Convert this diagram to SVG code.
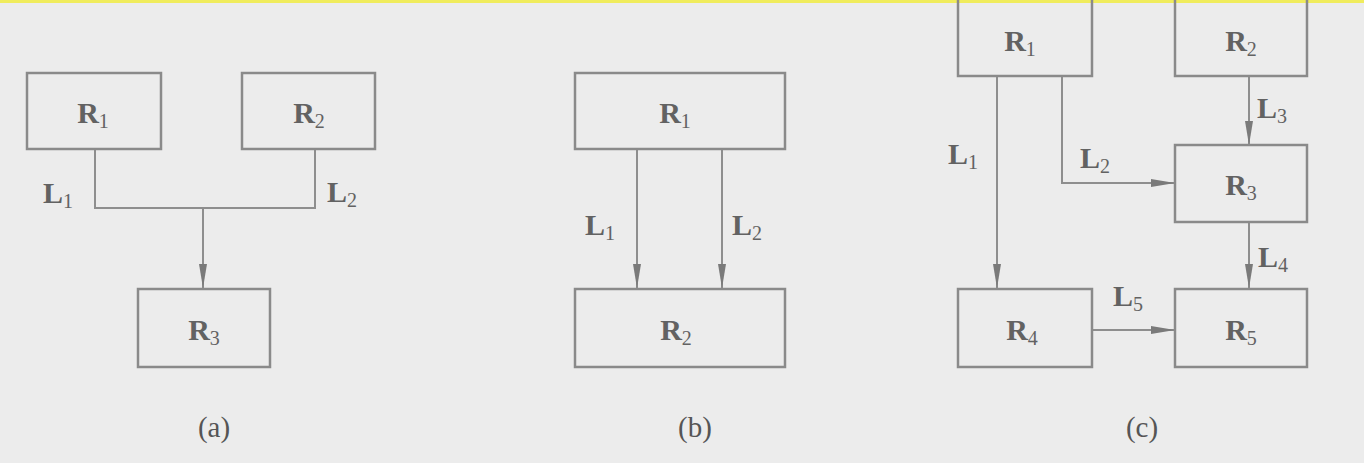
<svg xmlns="http://www.w3.org/2000/svg" width="1364" height="463" viewBox="0 0 1364 463">
<style>
.box{fill:none;stroke:#8a8a8a;stroke-width:2.5}
.ln{fill:none;stroke:#8e8e8e;stroke-width:2}
.t{font-family:"Liberation Serif","Times New Roman",serif;font-size:30px;font-weight:bold;fill:#626262}
.s{font-size:20px;font-weight:normal}
.cap{font-family:"Liberation Serif","Times New Roman",serif;font-size:29px;fill:#555}
</style>
<defs>
<marker id="ah" viewBox="0 0 24 10" refX="24" refY="5" markerWidth="24" markerHeight="10" markerUnits="userSpaceOnUse" orient="auto">
<path d="M0,1 L24,5 L0,9 Z" fill="#7a7a7a"/>
</marker>
</defs>
<rect x="0" y="0" width="1364" height="463" fill="#ececec"/>
<rect x="0" y="0" width="1364" height="3" fill="#f0ec5c"/>

<g id="connectors">
<path class="ln" d="M95,150 V208 H315 V150"/>
<path class="ln" d="M203,208 V288" marker-end="url(#ah)"/>
<path class="ln" d="M637,150 V288" marker-end="url(#ah)"/>
<path class="ln" d="M722,150 V288" marker-end="url(#ah)"/>
<path class="ln" d="M997,76 V288" marker-end="url(#ah)"/>
<path class="ln" d="M1062,76 V183 H1175" marker-end="url(#ah)"/>
<path class="ln" d="M1249,76 V145" marker-end="url(#ah)"/>
<path class="ln" d="M1249,222 V288" marker-end="url(#ah)"/>
<path class="ln" d="M1092,330 H1175" marker-end="url(#ah)"/>
<text class="t" x="43" y="203">L<tspan class="s" dy="5">1</tspan></text>
<text class="t" x="327" y="202">L<tspan class="s" dy="5">2</tspan></text>
<text class="t" x="585" y="235">L<tspan class="s" dy="5">1</tspan></text>
<text class="t" x="732" y="235">L<tspan class="s" dy="5">2</tspan></text>
<text class="t" x="948" y="164">L<tspan class="s" dy="5">1</tspan></text>
<text class="t" x="1080" y="168">L<tspan class="s" dy="5">2</tspan></text>
<text class="t" x="1257" y="118">L<tspan class="s" dy="5">3</tspan></text>
<text class="t" x="1258" y="267">L<tspan class="s" dy="5">4</tspan></text>
<text class="t" x="1113" y="306">L<tspan class="s" dy="5">5</tspan></text>
</g>

<g id="a-R1"><rect class="box" x="27" y="73" width="134" height="76"/><text class="t" x="93" y="123" text-anchor="middle">R<tspan class="s" dy="5">1</tspan></text></g>
<g id="a-R2"><rect class="box" x="242" y="73" width="133" height="76"/><text class="t" x="309" y="123" text-anchor="middle">R<tspan class="s" dy="5">2</tspan></text></g>
<g id="a-R3"><rect class="box" x="138" y="289" width="132" height="78"/><text class="t" x="204" y="340" text-anchor="middle">R<tspan class="s" dy="5">3</tspan></text></g>
<text class="cap" x="214" y="437" text-anchor="middle">(a)</text>

<g id="b-R1"><rect class="box" x="575" y="73" width="210" height="76"/><text class="t" x="675" y="123" text-anchor="middle">R<tspan class="s" dy="5">1</tspan></text></g>
<g id="b-R2"><rect class="box" x="575" y="289" width="210" height="78"/><text class="t" x="676" y="340" text-anchor="middle">R<tspan class="s" dy="5">2</tspan></text></g>
<text class="cap" x="695" y="437" text-anchor="middle">(b)</text>

<g id="c-R1"><rect class="box" x="958" y="-5" width="134" height="81"/><text class="t" x="1020" y="51" text-anchor="middle">R<tspan class="s" dy="5">1</tspan></text></g>
<g id="c-R2"><rect class="box" x="1175" y="-5" width="132" height="81"/><text class="t" x="1241" y="51" text-anchor="middle">R<tspan class="s" dy="5">2</tspan></text></g>
<g id="c-R3"><rect class="box" x="1175" y="145" width="132" height="77"/><text class="t" x="1241" y="195" text-anchor="middle">R<tspan class="s" dy="5">3</tspan></text></g>
<g id="c-R4"><rect class="box" x="958" y="289" width="134" height="78"/><text class="t" x="1022" y="340" text-anchor="middle">R<tspan class="s" dy="5">4</tspan></text></g>
<g id="c-R5"><rect class="box" x="1175" y="289" width="132" height="78"/><text class="t" x="1241" y="340" text-anchor="middle">R<tspan class="s" dy="5">5</tspan></text></g>
<text class="cap" x="1142" y="437" text-anchor="middle">(c)</text>
</svg>
